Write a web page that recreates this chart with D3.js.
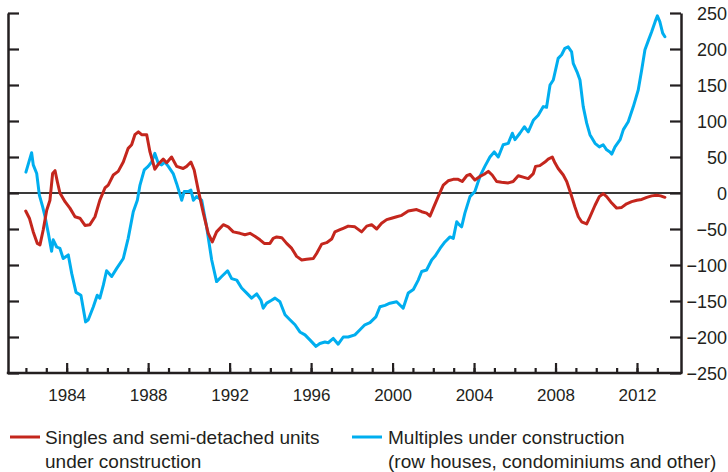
<!DOCTYPE html>
<html>
<head>
<meta charset="utf-8">
<script src="https://cdn.jsdelivr.net/npm/d3@7"></script>
<style>
  html, body { margin: 0; padding: 0; background: #fff; }
  svg { display: block; font-family: "Liberation Sans", Arial, sans-serif; }
</style>
</head>
<body>
<svg id="chart" width="728" height="472"></svg>
<script>
// ---- Data (decimal years) ----
const singlesYears = [1981.99,1982.17,1982.36,1982.56,1982.69,1982.85,1983.02,1983.18,1983.31,1983.43,1983.54,1983.67,1983.92,1984.16,1984.41,1984.65,1984.9,1985.14,1985.39,1985.63,1985.88,1986.04,1986.29,1986.53,1986.78,1987.02,1987.19,1987.35,1987.52,1987.68,1987.93,1988.09,1988.33,1988.53,1988.74,1988.91,1989.15,1989.4,1989.72,1989.89,1990.1,1990.26,1990.46,1990.71,1990.95,1991.15,1991.36,1991.69,1991.93,1992.18,1992.51,1992.75,1993.0,1993.24,1993.49,1993.7,1993.98,1994.14,1994.31,1994.56,1994.8,1995.05,1995.29,1995.54,1995.78,1996.11,1996.27,1996.52,1996.76,1997.01,1997.17,1997.42,1997.58,1997.82,1998.15,1998.48,1998.73,1998.97,1999.22,1999.46,1999.71,1999.95,2000.2,2000.45,2000.77,2001.18,2001.43,2001.67,2001.84,2002.0,2002.24,2002.49,2002.73,2002.98,2003.22,2003.42,2003.64,2003.8,2004.04,2004.29,2004.5,2004.7,2004.89,2005.11,2005.35,2005.68,2005.92,2006.17,2006.41,2006.66,2006.91,2007.02,2007.23,2007.48,2007.64,2007.84,2007.97,2008.13,2008.38,2008.55,2008.74,2008.95,2009.12,2009.28,2009.53,2009.69,2009.94,2010.15,2010.34,2010.51,2010.76,2011.0,2011.25,2011.49,2011.74,2011.99,2012.23,2012.48,2012.72,2012.97,2013.16,2013.37];
const singlesValues = [-25,-35,-54,-70,-72,-51,-24,-10,27,31,16,0,-12,-21,-33,-35,-45,-44,-33,-10,7,11,25,30,43,62,67,81,85,81,81,57,33,41,47,42,50,37,34,37,43,32,4,-28,-56,-68,-54,-44,-47,-54,-56,-58,-56,-60,-65,-70,-70,-63,-61,-62,-70,-77,-88,-93,-92,-91,-84,-71,-69,-64,-54,-51,-49,-46,-47,-54,-46,-44,-50,-42,-37,-35,-33,-31,-25,-23,-26,-28,-32,-21,-5,11,17,19,19,16,24,26,18,23,26,30,25,16,15,14,16,24,22,20,27,37,38,43,47,50,42,34,25,16,0,-19,-33,-40,-43,-33,-17,-5,-1,-5,-14,-21,-20,-15,-12,-10,-9,-6,-4,-3,-4,-6];

const multiplesYears = [1982.0,1982.28,1982.36,1982.53,1982.66,1982.82,1982.94,1983.1,1983.26,1983.34,1983.51,1983.67,1983.83,1984.08,1984.25,1984.46,1984.7,1984.93,1985.06,1985.31,1985.5,1985.63,1985.8,1985.96,1986.21,1986.45,1986.78,1987.02,1987.27,1987.47,1987.6,1987.81,1988.0,1988.17,1988.33,1988.5,1988.66,1988.82,1988.99,1989.23,1989.4,1989.65,1989.77,1989.97,1990.1,1990.22,1990.38,1990.63,1990.87,1991.12,1991.36,1991.61,1991.9,1992.1,1992.35,1992.59,1992.84,1993.08,1993.33,1993.54,1993.65,1993.82,1994.06,1994.23,1994.47,1994.72,1994.96,1995.21,1995.45,1995.7,1995.94,1996.24,1996.43,1996.68,1996.84,1997.09,1997.33,1997.58,1997.82,1998.15,1998.4,1998.64,1998.89,1999.18,1999.38,1999.63,1999.87,2000.2,2000.52,2000.77,2001.02,2001.26,2001.43,2001.67,2001.92,2002.08,2002.33,2002.57,2002.82,2002.98,2003.15,2003.27,2003.39,2003.55,2003.8,2004.04,2004.29,2004.53,2004.78,2004.99,2005.19,2005.43,2005.68,2005.88,2006.01,2006.25,2006.47,2006.66,2006.91,2007.15,2007.4,2007.56,2007.73,2007.89,2008.13,2008.3,2008.46,2008.62,2008.79,2008.87,2009.06,2009.2,2009.36,2009.53,2009.69,2009.94,2010.15,2010.34,2010.51,2010.67,2010.76,2010.92,2011.17,2011.33,2011.57,2011.82,2012.06,2012.23,2012.39,2012.56,2012.72,2012.89,2013.0,2013.12,2013.26,2013.37];
const multiplesValues = [29,56,39,27,-3,-19,-33,-56,-81,-65,-75,-77,-91,-86,-112,-138,-142,-179,-176,-158,-142,-146,-128,-108,-116,-105,-91,-63,-26,-10,11,32,37,43,55,41,39,43,37,27,13,-10,2,2,4,-10,-5,-10,-47,-93,-123,-116,-108,-119,-121,-132,-139,-146,-140,-149,-160,-153,-149,-146,-151,-169,-176,-183,-193,-197,-204,-213,-209,-207,-208,-202,-210,-200,-200,-197,-190,-183,-180,-172,-158,-156,-153,-151,-160,-139,-134,-121,-109,-107,-93,-88,-77,-68,-61,-63,-40,-44,-47,-28,-5,2,23,37,50,57,50,67,69,83,74,83,92,85,101,108,120,119,150,157,187,192,201,203,196,180,168,157,120,97,81,69,64,67,60,57,54,64,74,88,99,120,143,171,199,212,224,238,246,238,222,217];

const yTicks = [250,200,150,100,50,0,-50,-100,-150,-200,-250];
const majorYearTicks = [1984,1988,1992,1996,2000,2004,2008,2012];
const minorYearTicks = d3.range(1982, 2014);
const seriesNames = ["Singles and semi-detached units|under construction", "Multiples under construction|(row houses, condominiums and other)"];

// ---- Layout ----
const svg = d3.select("#chart");
const plotLeft = 8, plotRight = 681, plotTop = 13, plotBottom = 373;
const x = d3.scaleLinear().domain([1981.12, 2014.16]).range([plotLeft, plotRight]);
const y = d3.scaleLinear().domain([-250, 250]).range([plotBottom, plotTop]);
const axisColor = "#231f20";
const red = "#c4261d", blue = "#00aeef";

// zero line
svg.append("line")
  .attr("x1", plotLeft).attr("x2", plotRight)
  .attr("y1", y(0)).attr("y2", y(0))
  .attr("stroke", "#3a3a3a").attr("stroke-width", 2);

// left axis (ticks pointing inward, no labels)
const gl = svg.append("g").attr("transform", `translate(${plotLeft},0)`)
  .call(d3.axisRight(y).tickValues(yTicks).tickSize(11).tickSizeOuter(0).tickFormat(""));
// right axis (ticks pointing inward, labels outside)
const gr = svg.append("g").attr("transform", `translate(${plotRight},0)`)
  .call(d3.axisRight(y).tickValues(yTicks).tickSize(-11).tickSizeOuter(0).tickFormat(d3.format("d")));
gr.selectAll("text").attr("x", 46).attr("text-anchor", "end").attr("dy", "0.36em")
  .style("font-size", "18px").attr("fill", "#231f20");
// bottom axis: minor and major ticks pointing up
const gbMinor = svg.append("g").attr("transform", `translate(0,${plotBottom})`)
  .call(d3.axisBottom(x).tickValues(minorYearTicks).tickSize(-5).tickSizeOuter(0).tickFormat(""));
const gb = svg.append("g").attr("transform", `translate(0,${plotBottom})`)
  .call(d3.axisBottom(x).tickValues(majorYearTicks).tickSize(-10).tickSizeOuter(0).tickFormat(d3.format("d")));
gb.selectAll("text").attr("y", 22).attr("dy", "0.36em").style("font-size", "17px").attr("fill", "#231f20");
gbMinor.select(".domain").remove();
gb.select(".domain").remove();

[gl, gr, gbMinor, gb].forEach(g => {
  g.selectAll("line").attr("stroke", axisColor).attr("stroke-width", 2.2);
  g.selectAll(".domain").attr("stroke", axisColor).attr("stroke-width", 2.5);
});
// bottom axis line
svg.append("line").attr("x1", plotLeft - 1.2).attr("x2", plotRight + 1.2)
  .attr("y1", plotBottom).attr("y2", plotBottom)
  .attr("stroke", axisColor).attr("stroke-width", 2.5);

// ---- Lines ----
const line = d3.line().x(d => x(d[0])).y(d => y(d[1]));
const singles = singlesYears.map((t, i) => [t, singlesValues[i]]);
const multiples = multiplesYears.map((t, i) => [t, multiplesValues[i]]);
svg.append("path").datum(multiples).attr("d", line)
  .attr("fill", "none").attr("stroke", blue).attr("stroke-width", 3).attr("stroke-linejoin", "round").attr("stroke-linecap", "round");
svg.append("path").datum(singles).attr("d", line)
  .attr("fill", "none").attr("stroke", red).attr("stroke-width", 3).attr("stroke-linejoin", "round").attr("stroke-linecap", "round");

// ---- Legend ----
const legendItems = [
  { color: red, x0: 10, tx: 45, lines: seriesNames[0].split("|") },
  { color: blue, x0: 352, tx: 388, lines: seriesNames[1].split("|") }
];
legendItems.forEach(it => {
  svg.append("line").attr("x1", it.x0).attr("x2", it.x0 + 30)
    .attr("y1", 437).attr("y2", 437).attr("stroke", it.color).attr("stroke-width", 3);
  it.lines.forEach((s, i) => {
    svg.append("text").attr("x", it.tx).attr("y", 444 + i * 24)
      .style("font-size", "19px").attr("fill", "#231f20").text(s);
  });
});
</script>
</body>
</html>
